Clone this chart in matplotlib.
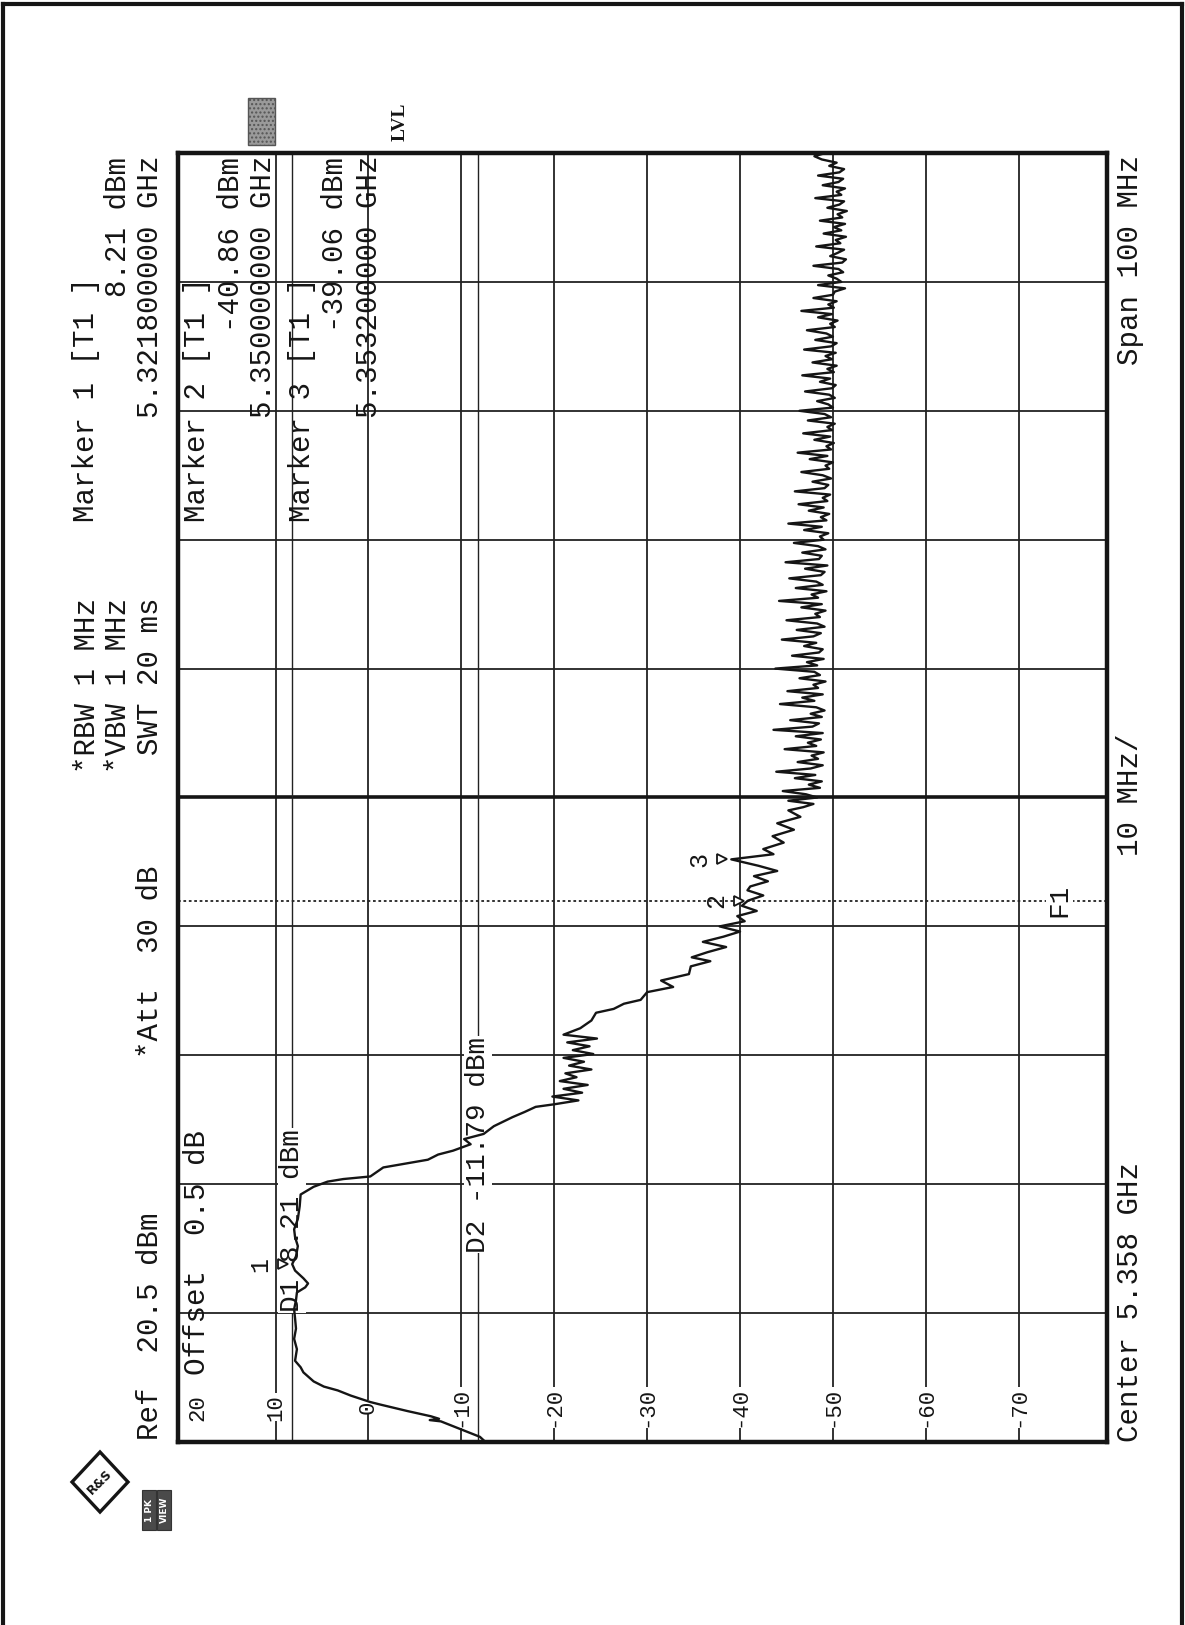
import matplotlib
matplotlib.use("Agg")
import matplotlib.pyplot as plt
import matplotlib.transforms as mtransforms
from matplotlib.patches import Polygon, Rectangle
from matplotlib.lines import Line2D

# spectrum analyzer sweep, frequency in MHz, level in dBm
rise_freq = [5308.0, 5308.4, 5309.0, 5309.6, 5309.7, 5309.8, 5310.0, 5310.4, 5310.9,
             5311.1, 5311.6, 5312.0, 5312.3, 5312.7, 5313.4, 5313.8]
rise_level = [-12.6, -12.0, -9.9, -7.8, -6.6, -7.6, -6.7, -4.2, -1.3,
              -0.2, 1.9, 3.3, 4.8, 5.9, 7.0, 7.3]

plateau_freq = [5314.3, 5315.2, 5316.0, 5316.8, 5317.6, 5318.3, 5319.0, 5319.6, 5320.0,
                5320.3, 5320.7, 5321.3, 5321.8, 5322.4, 5323.2, 5323.9, 5324.5, 5325.3,
                5326.3, 5327.2]
plateau_level = [7.9, 7.7, 8.0, 7.8, 7.9, 8.0, 7.8, 7.7, 6.8,
                 6.5, 7.0, 7.9, 8.21, 7.8, 7.6, 7.9, 8.0, 7.6,
                 7.4, 7.3]

fall_freq = [5327.8, 5328.2, 5328.4, 5328.6, 5329.3, 5329.9, 5330.3, 5330.6, 5331.1,
             5331.5, 5331.9, 5332.5, 5333.2, 5333.6, 5334.0]
fall_level = [5.9, 4.4, 2.7, -0.2, -1.6, -6.4, -7.5, -9.1, -11.0,
              -10.3, -12.4, -13.5, -15.5, -16.8, -18.0]

burst_freq = [5334.2, 5334.5, 5334.8, 5335.1, 5335.4, 5335.7, 5336.0, 5336.3, 5336.6,
              5336.9, 5337.2, 5337.5, 5337.8, 5338.1, 5338.4, 5338.7, 5339.0, 5339.3,
              5339.6, 5340.1, 5340.7]
burst_level = [-20.0, -22.6, -19.8, -23.0, -21.0, -23.6, -20.6, -22.4, -21.2,
               -24.0, -21.6, -23.2, -21.0, -24.2, -22.0, -23.8, -21.4, -24.6,
               -21.0, -22.8, -24.0]

skirt_freq = [5341.3, 5341.6, 5342.0, 5342.3, 5342.9, 5343.3, 5343.8, 5344.3, 5344.9,
              5345.3, 5345.6, 5346.0, 5346.4, 5346.8, 5347.2, 5347.6, 5348.0, 5348.4,
              5348.8, 5349.2, 5349.6, 5350.0, 5350.4, 5350.8, 5351.1, 5351.5, 5351.9,
              5352.3, 5352.7, 5353.2, 5353.6, 5354.0, 5354.5, 5355.0, 5355.5, 5356.0,
              5356.5, 5357.0]
skirt_level = [-24.5, -26.4, -27.5, -29.3, -30.0, -32.8, -31.5, -34.5, -34.7,
               -36.8, -34.8, -36.5, -38.5, -36.0, -38.2, -40.0, -37.8, -40.5,
               -39.7, -41.8, -40.2, -40.86, -42.5, -40.8, -41.1, -43.0, -41.5,
               -44.0, -42.0, -39.06, -43.6, -42.5, -44.7, -43.5, -45.8, -44.0,
               -46.5, -45.2]

floor_freq = [
    5357.25, 5357.5, 5357.75, 5358.0, 5358.25, 5358.5, 5358.75, 5359.0, 5359.25, 5359.5,
    5359.75, 5360.0, 5360.25, 5360.5, 5360.75, 5361.0, 5361.25, 5361.5, 5361.75, 5362.0,
    5362.25, 5362.5, 5362.75, 5363.0, 5363.25, 5363.5, 5363.75, 5364.0, 5364.25, 5364.5,
    5364.75, 5365.0, 5365.25, 5365.5, 5365.75, 5366.0, 5366.25, 5366.5, 5366.75, 5367.0,
    5367.25, 5367.5, 5367.75, 5368.0, 5368.25, 5368.5, 5368.75, 5369.0, 5369.25, 5369.5,
    5369.75, 5370.0, 5370.25, 5370.5, 5370.75, 5371.0, 5371.25, 5371.5, 5371.75, 5372.0,
    5372.25, 5372.5, 5372.75, 5373.0, 5373.25, 5373.5, 5373.75, 5374.0, 5374.25, 5374.5,
    5374.75, 5375.0, 5375.25, 5375.5, 5375.75, 5376.0, 5376.25, 5376.5, 5376.75, 5377.0,
    5377.25, 5377.5, 5377.75, 5378.0, 5378.25, 5378.5, 5378.75, 5379.0, 5379.25, 5379.5,
    5379.75, 5380.0, 5380.25, 5380.5, 5380.75, 5381.0, 5381.25, 5381.5, 5381.75, 5382.0,
    5382.25, 5382.5, 5382.75, 5383.0, 5383.25, 5383.5, 5383.75, 5384.0, 5384.25, 5384.5,
    5384.75, 5385.0, 5385.25, 5385.5, 5385.75, 5386.0, 5386.25, 5386.5, 5386.75, 5387.0,
    5387.25, 5387.5, 5387.75, 5388.0, 5388.25, 5388.5, 5388.75, 5389.0, 5389.25, 5389.5,
    5389.75, 5390.0, 5390.25, 5390.5, 5390.75, 5391.0, 5391.25, 5391.5, 5391.75, 5392.0,
    5392.25, 5392.5, 5392.75, 5393.0, 5393.25, 5393.5, 5393.75, 5394.0, 5394.25, 5394.5,
    5394.75, 5395.0, 5395.25, 5395.5, 5395.75, 5396.0, 5396.25, 5396.5, 5396.75, 5397.0,
    5397.25, 5397.5, 5397.75, 5398.0, 5398.25, 5398.5, 5398.75, 5399.0, 5399.25, 5399.5,
    5399.75, 5400.0, 5400.25, 5400.5, 5400.75, 5401.0, 5401.25, 5401.5, 5401.75, 5402.0,
    5402.25, 5402.5, 5402.75, 5403.0, 5403.25, 5403.5, 5403.75, 5404.0, 5404.25, 5404.5,
    5404.75, 5405.0, 5405.25, 5405.5, 5405.75, 5406.0, 5406.25, 5406.5, 5406.75, 5407.0,
    5407.25, 5407.5, 5407.75, 5408.0]
floor_level = [
    -46.8, -47.9, -45.2, -48.3, -47.1, -44.6, -48.6, -47.4, -48.8, -45.9,
    -48.1, -43.9, -47.6, -48.9, -46.2, -48.4, -47.7, -49.0, -44.8, -48.2,
    -47.3, -48.7, -46.0, -48.9, -43.6, -47.8, -48.5, -45.4, -48.8, -47.6,
    -49.1, -48.2, -44.3, -48.0, -46.7, -48.9, -45.1, -48.4, -47.9, -49.2,
    -46.4, -48.6, -48.0, -43.8, -48.3, -47.2, -49.0, -45.6, -48.5, -48.9,
    -46.9, -48.2, -44.5, -47.9, -48.7, -46.1, -49.1, -48.3, -45.0, -48.6,
    -48.1, -49.2, -46.6, -48.8, -44.2, -48.4, -47.7, -49.3, -46.0, -48.9,
    -48.2, -45.3, -48.7, -49.1, -47.0, -49.4, -44.9, -48.5, -48.8, -46.7,
    -49.2, -48.4, -45.8, -49.0, -48.6, -49.5, -46.9, -48.8, -45.2, -49.3,
    -48.7, -49.6, -47.4, -49.0, -46.3, -49.4, -48.9, -49.7, -45.9, -49.1,
    -49.5, -47.8, -49.8, -48.9, -46.6, -49.6, -49.2, -50.0, -47.5, -49.4,
    -46.2, -49.8, -49.3, -50.1, -48.0, -49.7, -46.8, -49.9, -49.4, -50.2,
    -47.3, -49.8, -49.1, -46.4, -50.0, -49.5, -48.3, -50.2, -49.6, -47.0,
    -49.9, -50.3, -48.6, -49.7, -46.7, -50.1, -49.4, -50.4, -47.8, -49.9,
    -49.2, -50.3, -46.9, -49.8, -50.4, -48.1, -50.0, -49.3, -47.2, -50.2,
    -49.7, -50.5, -48.4, -49.9, -46.6, -50.1, -49.5, -50.4, -47.9, -50.0,
    -50.2, -51.3, -48.4, -50.9, -50.4, -49.5, -51.1, -50.6, -47.9, -51.0,
    -51.4, -49.7, -50.5, -51.2, -48.2, -50.8, -50.3, -51.4, -49.0, -50.9,
    -50.1, -51.3, -48.6, -51.0, -50.5, -51.5, -49.4, -50.7, -51.2, -48.1,
    -50.9, -50.4, -51.3, -48.9, -50.6, -51.1, -48.4, -50.7, -51.2, -49.6,
    -50.4, -48.8, -48.0, -49.2]

marker_names = ["1", "2", "3"]
marker_freq = [5321.8, 5350.0, 5353.2]
marker_level = [8.21, -40.86, -39.06]

d1_level = 8.21
d2_level = -11.79
f1_freq = 5350.0

level_ticks = [10, 0, -10, -20, -30, -40, -50, -60, -70]
freq_ticks = [5318, 5328, 5338, 5348, 5358, 5368, 5378, 5388, 5398]

W, H = 1185, 1625
MONO = ["Liberation Mono", "DejaVu Sans Mono"]
INK = "#151515"

fig = plt.figure(figsize=(W / 100, H / 100), dpi=100)
fig.patch.set_facecolor("white")


def fx(x):
    return x / W


def fy(y):
    return 1 - y / H


def rtext(x, y, s, va="bottom", size=21, **kw):
    # printout text is rotated, reading from bottom to top
    kw.setdefault("family", MONO)
    fig.text(fx(x), fy(y), s, rotation=90, ha="center", va=va, fontsize=size,
             color=INK, **kw)


# grid area of the (rotated) analyzer screen
ax = fig.add_axes([fx(178), fy(1442), fx(1107) - fx(178), fy(153) - fy(1442)])
ax.set_xlim(20.5, -79.5)
ax.set_ylim(5308, 5408)
ax.set_xticks(level_ticks)
ax.set_yticks(freq_ticks)
ax.grid(True, color="#222222", lw=1.3)
ax.tick_params(length=0, labelbottom=False, labelleft=False)
for sp in ax.spines.values():
    sp.set_linewidth(3.2)
    sp.set_color(INK)
ax.axhline(5358, color=INK, lw=2.6)

# display lines and frequency line
ax.axvline(d1_level, color="#222222", lw=1.0)
ax.axvline(d2_level, color="#222222", lw=1.0)
ax.axhline(f1_freq, color="#222222", lw=1.3, ls=(0, (1.5, 1.5)))

lab = dict(rotation=90, ha="center", family=MONO, fontsize=20, color=INK,
           bbox=dict(fc="white", ec="none", pad=0.5), zorder=3)
ax.text(d1_level, 5318.1, "D1 8.21 dBm", va="bottom", **lab)
ax.text(d2_level, 5322.7, "D2 -11.79 dBm", va="bottom", **lab)
ax.text(-74.4, f1_freq, "F1", va="center", **lab)

# level labels along the bottom
blend = mtransforms.blended_transform_factory(ax.transData, ax.transAxes)
for lv in level_ticks:
    ax.text(lv, 0.027, str(lv), transform=blend, rotation=90, ha="center", va="center",
            family=MONO, fontsize=16, color=INK,
            bbox=dict(fc="white", ec="none", pad=0.3), zorder=3)
ax.text(18.4, 0.027, "20", transform=blend, rotation=90, ha="center", va="center",
        family=MONO, fontsize=16, color=INK, zorder=3)

# trace
trace_freq = rise_freq + plateau_freq + fall_freq + burst_freq + skirt_freq + floor_freq
trace_level = rise_level + plateau_level + fall_level + burst_level + skirt_level + floor_level
ax.plot(trace_level, trace_freq, color=INK, lw=1.7, zorder=4)

# markers
for name, f, lv in zip(marker_names, marker_freq, marker_level):
    ax.plot(lv + 1.0, f, marker=">", ms=7, mfc="white", mec=INK, mew=1.3, zorder=5)
    ax.text(lv + 3.4, f, name, rotation=90, ha="center", va="center", family=MONO,
            fontsize=18, color=INK, zorder=5)

# header text outside the grid
rtext(87, 773, "*RBW 1 MHz")
rtext(118, 773, "*VBW 1 MHz")
rtext(150, 755, "SWT 20 ms")
rtext(150, 1058, "*Att  30 dB")
rtext(150, 1440, "Ref  20.5 dBm")
rtext(197, 1375, "Offset  0.5 dB")

rtext(86, 277, "Marker 1 [T1 ]", va="top")
rtext(118, 157, "8.21 dBm", va="top")
rtext(150, 155, "5.321800000 GHz", va="top")
rtext(197, 277, "Marker 2 [T1 ]", va="top")
rtext(231, 157, "-40.86 dBm", va="top")
rtext(263, 155, "5.350000000 GHz", va="top")
rtext(302, 277, "Marker 3 [T1 ]", va="top")
rtext(335, 157, "-39.06 dBm", va="top")
rtext(369, 155, "5.353200000 GHz", va="top")

rtext(1130, 1442, "Center 5.358 GHz")
rtext(1130, 795, "10 MHz/", va="center")
rtext(1130, 155, "Span 100 MHz", va="top")

rtext(400, 122, "LVL", va="center", size=14, weight="bold", family="Liberation Serif")
fig.patches.append(Rectangle((fx(248), fy(145)), fx(27), 47 / H, transform=fig.transFigure,
                             fc="#9a9a9a", ec="#555555", lw=1, hatch="...."))

# R&S logo
cx, cy = 100, 1482
logo = Polygon([(fx(cx), fy(cy - 30)), (fx(cx + 28), fy(cy)), (fx(cx), fy(cy + 30)),
                (fx(cx - 28), fy(cy))],
               closed=True, fill=False, ec=INK, lw=2.4, transform=fig.transFigure)
fig.patches.append(logo)
fig.text(fx(cx), fy(cy), "R&S", rotation=45, ha="center", va="center", fontsize=9,
         weight="bold", color=INK, family="DejaVu Sans")

# trace info boxes
for x0, s in [(142, "1 PK"), (157, "VIEW")]:
    fig.patches.append(Rectangle((fx(x0), fy(1530)), 14 / W, 40 / H, transform=fig.transFigure,
                                 fc="#4a4a4a", ec="#333333", lw=0.8))
    fig.text(fx(x0 + 7), fy(1510), s, rotation=90, ha="center", va="center", fontsize=6.5,
             color="white", weight="bold", family="DejaVu Sans")

# page frame
for xs, ys in [([3, 3], [4, H]), ([3, 1182], [4, 4]), ([1182, 1182], [4, H])]:
    fig.lines.append(Line2D([fx(v) for v in xs], [fy(v) for v in ys], transform=fig.transFigure,
                            color=INK, lw=3))

fig.savefig("out.png", dpi=100, facecolor="white")
